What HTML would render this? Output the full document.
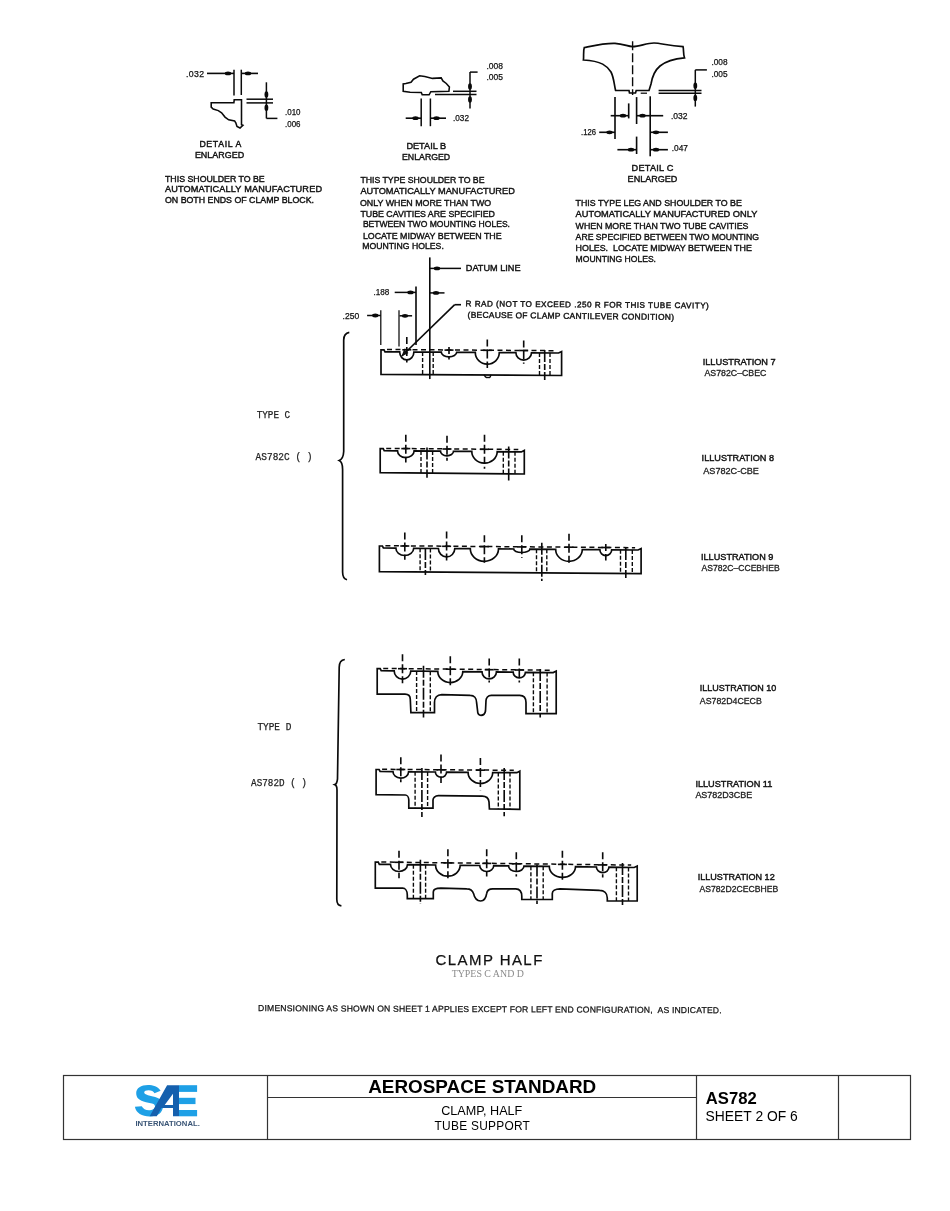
<!DOCTYPE html><html><head><meta charset="utf-8"><style>html,body{margin:0;padding:0;background:#fff;width:950px;height:1211px;overflow:hidden}svg{display:block;-webkit-font-smoothing:antialiased;will-change:transform}</style></head><body>
<svg width="950" height="1211" viewBox="0 0 950 1211">
<rect width="950" height="1211" fill="#fff"/>
<text x="186.0" y="76.5" font-family='"Liberation Sans", sans-serif' font-size="8.72" font-weight="normal" fill="#111" stroke="#111" stroke-width="0.25" textLength="18.0" lengthAdjust="spacing">.032</text>
<line x1="207.0" y1="73.4" x2="234.0" y2="73.4" stroke="#0a0a0a" stroke-width="1.62"/>
<ellipse cx="228.0" cy="73.4" rx="3.2" ry="1.9" fill="#0a0a0a"/>
<line x1="234.0" y1="69.7" x2="234.0" y2="95.5" stroke="#0a0a0a" stroke-width="1.50"/>
<line x1="241.3" y1="69.7" x2="241.3" y2="95.0" stroke="#0a0a0a" stroke-width="1.50"/>
<line x1="242.0" y1="73.4" x2="258.0" y2="73.4" stroke="#0a0a0a" stroke-width="1.62"/>
<ellipse cx="248.0" cy="73.4" rx="3.2" ry="1.9" fill="#0a0a0a"/>
<path d="M211.2 102.7 L233.9 102.7 L234.2 99.8 L241.5 99.8 L241.5 124.7 L242.9 125.2 L240 128 L237 126.5 L235.8 122.8 L234.6 120.9 L228.7 119.8 L225 117.1 L221.6 112.8 L218.3 110.6 L213.2 109 L211.2 107.2 Z" fill="none" stroke="#0a0a0a" stroke-width="1.56"/>
<line x1="246.5" y1="99.2" x2="273.0" y2="99.2" stroke="#0a0a0a" stroke-width="1.50"/>
<line x1="246.5" y1="102.9" x2="273.0" y2="102.9" stroke="#0a0a0a" stroke-width="1.50"/>
<line x1="266.4" y1="82.3" x2="266.4" y2="118.4" stroke="#0a0a0a" stroke-width="1.50"/>
<ellipse cx="266.4" cy="94.5" rx="1.9" ry="3.2" fill="#0a0a0a"/>
<ellipse cx="266.4" cy="107.7" rx="1.9" ry="3.2" fill="#0a0a0a"/>
<line x1="266.4" y1="118.4" x2="277.4" y2="118.4" stroke="#0a0a0a" stroke-width="1.50"/>
<text x="285.0" y="114.8" font-family='"Liberation Sans", sans-serif' font-size="9.01" font-weight="normal" fill="#111" stroke="#111" stroke-width="0.25" textLength="15.5" lengthAdjust="spacingAndGlyphs">.010</text>
<text x="285.0" y="126.6" font-family='"Liberation Sans", sans-serif' font-size="9.01" font-weight="normal" fill="#111" stroke="#111" stroke-width="0.25" textLength="15.5" lengthAdjust="spacingAndGlyphs">.006</text>
<text x="199.4" y="147.3" font-family='"Liberation Sans", sans-serif' font-size="8.72" font-weight="normal" fill="#111" stroke="#111" stroke-width="0.42" textLength="42.0" lengthAdjust="spacing">DETAIL A</text>
<text x="194.9" y="158.3" font-family='"Liberation Sans", sans-serif' font-size="9.16" font-weight="normal" fill="#111" stroke="#111" stroke-width="0.42" textLength="49.2" lengthAdjust="spacingAndGlyphs">ENLARGED</text>
<text x="165.0" y="181.6" font-family='"Liberation Sans", sans-serif' font-size="9.16" font-weight="normal" fill="#111" stroke="#111" stroke-width="0.42" textLength="99.7" lengthAdjust="spacingAndGlyphs">THIS SHOULDER TO BE</text>
<text x="165.0" y="192.3" font-family='"Liberation Sans", sans-serif' font-size="9.16" font-weight="normal" fill="#111" stroke="#111" stroke-width="0.42" textLength="157.0" lengthAdjust="spacing">AUTOMATICALLY MANUFACTURED</text>
<text x="165.0" y="203.3" font-family='"Liberation Sans", sans-serif' font-size="9.16" font-weight="normal" fill="#111" stroke="#111" stroke-width="0.42" textLength="149.0" lengthAdjust="spacingAndGlyphs">ON BOTH ENDS OF CLAMP BLOCK.</text>
<path d="M403.2 84 L403.2 91.3 L410.1 92.2 L421.3 92.4 L422.2 94.8 L429.1 94.8 L430.8 91.7 L448.9 91.3 L449.4 87 L446.3 83.5 L442.9 80.9 L441.2 77.9 L432.5 78.4 L424.8 76.6 L419.6 75.8 L413.5 79.2 L411 82.2 L405.8 83.5 Z" fill="none" stroke="#0a0a0a" stroke-width="1.56"/>
<line x1="453.0" y1="91.3" x2="476.5" y2="91.3" stroke="#0a0a0a" stroke-width="1.50"/>
<line x1="435.0" y1="94.4" x2="476.5" y2="94.4" stroke="#0a0a0a" stroke-width="1.50"/>
<line x1="470.0" y1="72.1" x2="470.0" y2="108.4" stroke="#0a0a0a" stroke-width="1.50"/>
<line x1="470.0" y1="72.1" x2="477.6" y2="72.1" stroke="#0a0a0a" stroke-width="1.50"/>
<ellipse cx="470.0" cy="86.5" rx="1.9" ry="3.2" fill="#0a0a0a"/>
<ellipse cx="470.0" cy="99.5" rx="1.9" ry="3.2" fill="#0a0a0a"/>
<text x="486.5" y="69.0" font-family='"Liberation Sans", sans-serif' font-size="8.72" font-weight="normal" fill="#111" stroke="#111" stroke-width="0.25" textLength="16.5" lengthAdjust="spacingAndGlyphs">.008</text>
<text x="486.5" y="80.0" font-family='"Liberation Sans", sans-serif' font-size="8.72" font-weight="normal" fill="#111" stroke="#111" stroke-width="0.25" textLength="16.5" lengthAdjust="spacingAndGlyphs">.005</text>
<line x1="421.2" y1="98.5" x2="421.2" y2="126.2" stroke="#0a0a0a" stroke-width="1.50"/>
<line x1="430.4" y1="98.5" x2="430.4" y2="126.2" stroke="#0a0a0a" stroke-width="1.50"/>
<line x1="405.7" y1="118.2" x2="421.0" y2="118.2" stroke="#0a0a0a" stroke-width="1.62"/>
<ellipse cx="415.5" cy="118.2" rx="3.2" ry="1.9" fill="#0a0a0a"/>
<line x1="431.0" y1="118.2" x2="446.0" y2="118.2" stroke="#0a0a0a" stroke-width="1.62"/>
<ellipse cx="436.5" cy="118.2" rx="3.2" ry="1.9" fill="#0a0a0a"/>
<text x="453.0" y="121.3" font-family='"Liberation Sans", sans-serif' font-size="8.87" font-weight="normal" fill="#111" stroke="#111" stroke-width="0.25" textLength="16.0" lengthAdjust="spacingAndGlyphs">.032</text>
<text x="406.4" y="149.2" font-family='"Liberation Sans", sans-serif' font-size="9.59" font-weight="normal" fill="#111" stroke="#111" stroke-width="0.42" textLength="39.7" lengthAdjust="spacingAndGlyphs">DETAIL B</text>
<text x="402.0" y="160.0" font-family='"Liberation Sans", sans-serif' font-size="9.74" font-weight="normal" fill="#111" stroke="#111" stroke-width="0.42" textLength="48.2" lengthAdjust="spacingAndGlyphs">ENLARGED</text>
<text x="360.4" y="183.0" font-family='"Liberation Sans", sans-serif' font-size="9.59" font-weight="normal" fill="#111" stroke="#111" stroke-width="0.42" textLength="124.1" lengthAdjust="spacingAndGlyphs">THIS TYPE SHOULDER TO BE</text>
<text x="360.4" y="194.4" font-family='"Liberation Sans", sans-serif' font-size="9.74" font-weight="normal" fill="#111" stroke="#111" stroke-width="0.42" textLength="154.4" lengthAdjust="spacingAndGlyphs">AUTOMATICALLY MANUFACTURED</text>
<text x="359.9" y="205.6" font-family='"Liberation Sans", sans-serif' font-size="9.59" font-weight="normal" fill="#111" stroke="#111" stroke-width="0.42" textLength="131.3" lengthAdjust="spacingAndGlyphs">ONLY WHEN MORE THAN TWO</text>
<text x="360.4" y="217.1" font-family='"Liberation Sans", sans-serif' font-size="9.59" font-weight="normal" fill="#111" stroke="#111" stroke-width="0.42" textLength="134.6" lengthAdjust="spacingAndGlyphs">TUBE CAVITIES ARE SPECIFIED</text>
<text x="362.9" y="226.6" font-family='"Liberation Sans", sans-serif' font-size="9.59" font-weight="normal" fill="#111" stroke="#111" stroke-width="0.42" textLength="147.1" lengthAdjust="spacingAndGlyphs">BETWEEN TWO MOUNTING HOLES.</text>
<text x="362.9" y="238.9" font-family='"Liberation Sans", sans-serif' font-size="9.59" font-weight="normal" fill="#111" stroke="#111" stroke-width="0.42" textLength="138.7" lengthAdjust="spacingAndGlyphs">LOCATE MIDWAY BETWEEN THE</text>
<text x="362.3" y="249.3" font-family='"Liberation Sans", sans-serif' font-size="9.59" font-weight="normal" fill="#111" stroke="#111" stroke-width="0.42" textLength="81.5" lengthAdjust="spacingAndGlyphs">MOUNTING HOLES.</text>
<path d="M584.3 47.5 C 592 46 605 43 615 43.4 C 624 44 628 46.6 632.6 46.6 C 640 46.6 646 43 654 43 C 661 43 668 46 683 46.6 C 684 50 683 54 684.5 57.8 C 676 58.5 666 61 660 66 C 654 71 652 78 651 84 L 649 90.5 L 636.2 90.5 L 635.5 93 L 629.5 93 L 629 90.5 L 615.6 90.5 C 614 84 614 78 611 72 C 607 66 602 61 583.4 60 C 584 56 583 51 584.3 47.5 Z" fill="none" stroke="#0a0a0a" stroke-width="1.68"/>
<line x1="640.7" y1="93.2" x2="647.0" y2="93.2" stroke="#0a0a0a" stroke-width="1.25"/>
<line x1="632.6" y1="41.3" x2="632.6" y2="95.0" stroke="#0a0a0a" stroke-width="1.38" stroke-dasharray="9 3"/>
<line x1="658.6" y1="90.5" x2="701.5" y2="90.5" stroke="#0a0a0a" stroke-width="1.50"/>
<line x1="658.6" y1="93.2" x2="701.5" y2="93.2" stroke="#0a0a0a" stroke-width="1.50"/>
<line x1="695.3" y1="69.9" x2="695.3" y2="106.6" stroke="#0a0a0a" stroke-width="1.50"/>
<line x1="695.3" y1="69.9" x2="706.9" y2="69.9" stroke="#0a0a0a" stroke-width="1.50"/>
<ellipse cx="695.3" cy="85.8" rx="1.9" ry="3.2" fill="#0a0a0a"/>
<ellipse cx="695.3" cy="97.9" rx="1.9" ry="3.2" fill="#0a0a0a"/>
<text x="711.4" y="64.8" font-family='"Liberation Sans", sans-serif' font-size="8.72" font-weight="normal" fill="#111" stroke="#111" stroke-width="0.25" textLength="16.1" lengthAdjust="spacingAndGlyphs">.008</text>
<text x="711.4" y="76.5" font-family='"Liberation Sans", sans-serif' font-size="8.72" font-weight="normal" fill="#111" stroke="#111" stroke-width="0.25" textLength="16.1" lengthAdjust="spacingAndGlyphs">.005</text>
<line x1="615.0" y1="97.1" x2="615.0" y2="139.0" stroke="#0a0a0a" stroke-width="1.62"/>
<line x1="628.7" y1="103.4" x2="628.7" y2="118.4" stroke="#0a0a0a" stroke-width="1.62"/>
<line x1="636.6" y1="97.1" x2="636.6" y2="124.0" stroke="#0a0a0a" stroke-width="1.62"/>
<line x1="636.6" y1="136.6" x2="636.6" y2="154.0" stroke="#0a0a0a" stroke-width="1.62"/>
<line x1="650.2" y1="96.3" x2="650.2" y2="156.3" stroke="#0a0a0a" stroke-width="1.62"/>
<line x1="610.7" y1="115.7" x2="628.7" y2="115.7" stroke="#0a0a0a" stroke-width="1.62"/>
<ellipse cx="623.0" cy="115.7" rx="3.2" ry="1.9" fill="#0a0a0a"/>
<line x1="637.0" y1="115.7" x2="663.2" y2="115.7" stroke="#0a0a0a" stroke-width="1.62"/>
<ellipse cx="642.5" cy="115.7" rx="3.2" ry="1.9" fill="#0a0a0a"/>
<text x="671.0" y="119.0" font-family='"Liberation Sans", sans-serif' font-size="8.72" font-weight="normal" fill="#111" stroke="#111" stroke-width="0.25" textLength="16.6" lengthAdjust="spacingAndGlyphs">.032</text>
<text x="581.0" y="135.3" font-family='"Liberation Sans", sans-serif' font-size="8.72" font-weight="normal" fill="#111" stroke="#111" stroke-width="0.25" textLength="15.0" lengthAdjust="spacingAndGlyphs">.126</text>
<line x1="599.2" y1="132.3" x2="615.0" y2="132.3" stroke="#0a0a0a" stroke-width="1.62"/>
<ellipse cx="609.5" cy="132.3" rx="3.2" ry="1.9" fill="#0a0a0a"/>
<line x1="650.5" y1="132.3" x2="667.9" y2="132.3" stroke="#0a0a0a" stroke-width="1.62"/>
<ellipse cx="656.0" cy="132.3" rx="3.2" ry="1.9" fill="#0a0a0a"/>
<line x1="617.4" y1="149.7" x2="636.6" y2="149.7" stroke="#0a0a0a" stroke-width="1.62"/>
<ellipse cx="631.0" cy="149.7" rx="3.2" ry="1.9" fill="#0a0a0a"/>
<line x1="650.5" y1="149.7" x2="667.9" y2="149.7" stroke="#0a0a0a" stroke-width="1.62"/>
<ellipse cx="656.0" cy="149.7" rx="3.2" ry="1.9" fill="#0a0a0a"/>
<text x="671.8" y="151.4" font-family='"Liberation Sans", sans-serif' font-size="8.72" font-weight="normal" fill="#111" stroke="#111" stroke-width="0.25" textLength="16.2" lengthAdjust="spacingAndGlyphs">.047</text>
<text x="631.6" y="171.3" font-family='"Liberation Sans", sans-serif' font-size="9.16" font-weight="normal" fill="#111" stroke="#111" stroke-width="0.42" textLength="41.8" lengthAdjust="spacing">DETAIL C</text>
<text x="627.6" y="182.4" font-family='"Liberation Sans", sans-serif' font-size="9.30" font-weight="normal" fill="#111" stroke="#111" stroke-width="0.42" textLength="49.8" lengthAdjust="spacingAndGlyphs">ENLARGED</text>
<text x="575.6" y="205.9" font-family='"Liberation Sans", sans-serif' font-size="9.59" font-weight="normal" fill="#111" stroke="#111" stroke-width="0.42" textLength="166.2" lengthAdjust="spacingAndGlyphs">THIS TYPE LEG AND SHOULDER TO BE</text>
<text x="575.6" y="217.1" font-family='"Liberation Sans", sans-serif' font-size="9.45" font-weight="normal" fill="#111" stroke="#111" stroke-width="0.42" textLength="181.7" lengthAdjust="spacingAndGlyphs">AUTOMATICALLY MANUFACTURED ONLY</text>
<text x="575.6" y="228.6" font-family='"Liberation Sans", sans-serif' font-size="9.59" font-weight="normal" fill="#111" stroke="#111" stroke-width="0.42" textLength="172.9" lengthAdjust="spacingAndGlyphs">WHEN MORE THAN TWO TUBE CAVITIES</text>
<text x="575.6" y="239.6" font-family='"Liberation Sans", sans-serif' font-size="9.59" font-weight="normal" fill="#111" stroke="#111" stroke-width="0.42" textLength="183.4" lengthAdjust="spacingAndGlyphs">ARE SPECIFIED BETWEEN TWO MOUNTING</text>
<text x="575.6" y="250.7" font-family='"Liberation Sans", sans-serif' font-size="9.59" font-weight="normal" fill="#111" stroke="#111" stroke-width="0.42" textLength="176.2" lengthAdjust="spacingAndGlyphs">HOLES.  LOCATE MIDWAY BETWEEN THE</text>
<text x="575.6" y="261.8" font-family='"Liberation Sans", sans-serif' font-size="9.59" font-weight="normal" fill="#111" stroke="#111" stroke-width="0.42" textLength="80.4" lengthAdjust="spacingAndGlyphs">MOUNTING HOLES.</text>
<line x1="429.8" y1="257.4" x2="429.8" y2="379.0" stroke="#0a0a0a" stroke-width="1.62"/>
<line x1="430.0" y1="268.4" x2="461.0" y2="268.4" stroke="#0a0a0a" stroke-width="1.50"/>
<ellipse cx="437.0" cy="268.4" rx="3.2" ry="1.9" fill="#0a0a0a"/>
<text x="465.8" y="271.2" font-family='"Liberation Sans", sans-serif' font-size="9.30" font-weight="normal" fill="#111" stroke="#111" stroke-width="0.42" textLength="54.7" lengthAdjust="spacingAndGlyphs">DATUM LINE</text>
<text x="373.4" y="295.1" font-family='"Liberation Sans", sans-serif' font-size="8.72" font-weight="normal" fill="#111" stroke="#111" stroke-width="0.25" textLength="15.8" lengthAdjust="spacingAndGlyphs">.188</text>
<line x1="394.7" y1="292.4" x2="416.0" y2="292.4" stroke="#0a0a0a" stroke-width="1.50"/>
<ellipse cx="410.5" cy="292.4" rx="3.2" ry="1.9" fill="#0a0a0a"/>
<line x1="416.0" y1="286.6" x2="416.0" y2="345.0" stroke="#0a0a0a" stroke-width="1.62"/>
<line x1="430.0" y1="292.9" x2="444.5" y2="292.9" stroke="#0a0a0a" stroke-width="1.50"/>
<ellipse cx="436.0" cy="292.9" rx="3.2" ry="1.9" fill="#0a0a0a"/>
<text x="342.6" y="318.5" font-family='"Liberation Sans", sans-serif' font-size="8.72" font-weight="normal" fill="#111" stroke="#111" stroke-width="0.25" textLength="16.6" lengthAdjust="spacingAndGlyphs">.250</text>
<line x1="367.1" y1="315.5" x2="380.8" y2="315.5" stroke="#0a0a0a" stroke-width="1.50"/>
<ellipse cx="375.3" cy="315.5" rx="3.2" ry="1.9" fill="#0a0a0a"/>
<line x1="380.8" y1="310.3" x2="380.8" y2="345.0" stroke="#0a0a0a" stroke-width="1.25"/>
<line x1="399.0" y1="310.3" x2="399.0" y2="346.6" stroke="#0a0a0a" stroke-width="1.25"/>
<line x1="399.5" y1="315.8" x2="412.1" y2="315.8" stroke="#0a0a0a" stroke-width="1.50"/>
<ellipse cx="405.0" cy="315.8" rx="3.2" ry="1.9" fill="#0a0a0a"/>
<line x1="401.8" y1="356.0" x2="454.7" y2="304.7" stroke="#0a0a0a" stroke-width="1.62"/>
<line x1="454.7" y1="304.7" x2="461.0" y2="304.7" stroke="#0a0a0a" stroke-width="1.62"/>
<path d="M401.5 356.5 L404 349.5 L408.5 353 Z" fill="#111"/>
<text x="465.6" y="306.3" font-family='"Liberation Sans", sans-serif' font-size="8.14" font-weight="normal" fill="#111" stroke="#111" stroke-width="0.40" textLength="243.2" lengthAdjust="spacing" transform="rotate(0.500 465.6 306.3)">R RAD (NOT TO EXCEED .250 R FOR THIS TUBE CAVITY)</text>
<text x="467.6" y="317.7" font-family='"Liberation Sans", sans-serif' font-size="8.43" font-weight="normal" fill="#111" stroke="#111" stroke-width="0.40" textLength="206.4" lengthAdjust="spacing" transform="rotate(0.620 467.6 317.7)">(BECAUSE OF CLAMP CANTILEVER CONDITION)</text>
<path d="M381.0 374.3 L381.0 349.8 L384.0 349.8 L385.0 351.8 L399.7 351.9 A7.1 8.0 0 0 0 413.9 352.0 L441.3 352.2 A7.7 4.6 0 0 0 456.7 352.3 L475.3 352.4 A12.0 11.7 0 0 0 499.3 352.6 L515.9 352.7 A7.8 7.3 0 0 0 531.5 352.8 L558.6 353.0 L561.6 351.5 L561.6 375.5 Z" fill="none" stroke="#0a0a0a" stroke-width="1.68"/>
<line x1="387.0" y1="349.5" x2="555.6" y2="350.7" stroke="#0a0a0a" stroke-width="1.50" stroke-dasharray="5 3.5"/>
<line x1="406.8" y1="337.0" x2="406.8" y2="362.6" stroke="#0a0a0a" stroke-width="1.62" stroke-dasharray="7 3 9 3"/>
<line x1="402.3" y1="349.8" x2="411.3" y2="349.8" stroke="#0a0a0a" stroke-width="1.62"/>
<line x1="449.0" y1="347.0" x2="449.0" y2="359.5" stroke="#0a0a0a" stroke-width="1.62" stroke-dasharray="7 3 9 3"/>
<line x1="444.5" y1="350.1" x2="453.5" y2="350.1" stroke="#0a0a0a" stroke-width="1.62"/>
<line x1="487.3" y1="339.5" x2="487.3" y2="367.9" stroke="#0a0a0a" stroke-width="1.62" stroke-dasharray="7 3 9 3"/>
<line x1="482.8" y1="350.3" x2="491.8" y2="350.3" stroke="#0a0a0a" stroke-width="1.62"/>
<line x1="523.7" y1="340.5" x2="523.7" y2="363.7" stroke="#0a0a0a" stroke-width="1.62" stroke-dasharray="7 3 9 3"/>
<line x1="519.2" y1="350.5" x2="528.2" y2="350.5" stroke="#0a0a0a" stroke-width="1.62"/>
<line x1="422.6" y1="352.1" x2="422.6" y2="374.6" stroke="#0a0a0a" stroke-width="1.38" stroke-dasharray="4 2"/>
<line x1="433.2" y1="352.1" x2="433.2" y2="374.6" stroke="#0a0a0a" stroke-width="1.38" stroke-dasharray="4 2"/>
<line x1="429.8" y1="379.0" x2="429.8" y2="379.0" stroke="#0a0a0a" stroke-width="1.62" stroke-dasharray="12 2 6 2"/>
<line x1="539.5" y1="352.9" x2="539.5" y2="375.4" stroke="#0a0a0a" stroke-width="1.38" stroke-dasharray="4 2"/>
<line x1="550.0" y1="352.9" x2="550.0" y2="375.4" stroke="#0a0a0a" stroke-width="1.38" stroke-dasharray="4 2"/>
<line x1="544.7" y1="350.0" x2="544.7" y2="380.0" stroke="#0a0a0a" stroke-width="1.62" stroke-dasharray="12 2 6 2"/>
<line x1="484.0" y1="374.8" x2="486.0" y2="377.5" stroke="#0a0a0a" stroke-width="1.38"/>
<line x1="486.0" y1="377.5" x2="490.0" y2="377.5" stroke="#0a0a0a" stroke-width="1.38"/>
<line x1="490.0" y1="377.5" x2="491.0" y2="374.8" stroke="#0a0a0a" stroke-width="1.38"/>
<path d="M380.2 472.7 L380.2 448.6 L383.2 448.6 L384.2 450.6 L397.5 450.8 A8.3 6.8 0 0 0 414.1 450.9 L440.5 451.1 A6.5 4.6 0 0 0 453.5 451.3 L471.8 451.4 A12.7 11.5 0 0 0 497.2 451.7 L521.3 451.9 L524.3 450.4 L524.3 474.0 Z" fill="none" stroke="#0a0a0a" stroke-width="1.68"/>
<line x1="386.2" y1="448.4" x2="518.3" y2="449.5" stroke="#0a0a0a" stroke-width="1.50" stroke-dasharray="5 3.5"/>
<line x1="405.8" y1="434.8" x2="405.8" y2="462.6" stroke="#0a0a0a" stroke-width="1.62" stroke-dasharray="7 3 9 3"/>
<line x1="401.3" y1="448.6" x2="410.3" y2="448.6" stroke="#0a0a0a" stroke-width="1.62"/>
<line x1="447.0" y1="435.7" x2="447.0" y2="460.8" stroke="#0a0a0a" stroke-width="1.62" stroke-dasharray="7 3 9 3"/>
<line x1="442.5" y1="449.0" x2="451.5" y2="449.0" stroke="#0a0a0a" stroke-width="1.62"/>
<line x1="484.5" y1="434.8" x2="484.5" y2="468.8" stroke="#0a0a0a" stroke-width="1.62" stroke-dasharray="7 3 9 3"/>
<line x1="480.0" y1="449.3" x2="489.0" y2="449.3" stroke="#0a0a0a" stroke-width="1.62"/>
<line x1="421.0" y1="451.0" x2="421.0" y2="473.1" stroke="#0a0a0a" stroke-width="1.38" stroke-dasharray="4 2"/>
<line x1="432.6" y1="451.1" x2="432.6" y2="473.2" stroke="#0a0a0a" stroke-width="1.38" stroke-dasharray="4 2"/>
<line x1="427.0" y1="447.4" x2="427.0" y2="477.8" stroke="#0a0a0a" stroke-width="1.62" stroke-dasharray="12 2 6 2"/>
<line x1="503.3" y1="451.7" x2="503.3" y2="473.8" stroke="#0a0a0a" stroke-width="1.38" stroke-dasharray="4 2"/>
<line x1="515.0" y1="451.8" x2="515.0" y2="473.9" stroke="#0a0a0a" stroke-width="1.38" stroke-dasharray="4 2"/>
<line x1="508.7" y1="446.5" x2="508.7" y2="480.5" stroke="#0a0a0a" stroke-width="1.62" stroke-dasharray="12 2 6 2"/>
<path d="M379.4 571.6 L379.4 546.0 L382.4 546.0 L383.4 548.0 L395.9 548.1 A8.9 7.3 0 0 0 413.7 548.3 L438.4 548.5 A8.2 8.4 0 0 0 454.8 548.6 L470.3 548.7 A14.1 12.5 0 0 0 498.5 548.9 L513.7 549.0 A8.1 3.4 0 0 0 529.9 549.2 L555.7 549.3 A13.3 11.9 0 0 0 582.3 549.6 L599.9 549.7 A5.9 5.8 0 0 0 611.7 549.8 L638.1 550.0 L641.1 548.5 L641.1 573.6 Z" fill="none" stroke="#0a0a0a" stroke-width="1.68"/>
<line x1="385.4" y1="545.7" x2="635.1" y2="547.7" stroke="#0a0a0a" stroke-width="1.50" stroke-dasharray="5 3.5"/>
<line x1="404.8" y1="532.4" x2="404.8" y2="559.8" stroke="#0a0a0a" stroke-width="1.62" stroke-dasharray="7 3 9 3"/>
<line x1="400.3" y1="546.0" x2="409.3" y2="546.0" stroke="#0a0a0a" stroke-width="1.62"/>
<line x1="446.6" y1="531.5" x2="446.6" y2="560.4" stroke="#0a0a0a" stroke-width="1.62" stroke-dasharray="7 3 9 3"/>
<line x1="442.1" y1="546.3" x2="451.1" y2="546.3" stroke="#0a0a0a" stroke-width="1.62"/>
<line x1="484.4" y1="535.3" x2="484.4" y2="562.7" stroke="#0a0a0a" stroke-width="1.62" stroke-dasharray="7 3 9 3"/>
<line x1="479.9" y1="546.6" x2="488.9" y2="546.6" stroke="#0a0a0a" stroke-width="1.62"/>
<line x1="521.8" y1="535.3" x2="521.8" y2="558.0" stroke="#0a0a0a" stroke-width="1.62" stroke-dasharray="7 3 9 3"/>
<line x1="517.3" y1="546.9" x2="526.3" y2="546.9" stroke="#0a0a0a" stroke-width="1.62"/>
<line x1="569.0" y1="533.8" x2="569.0" y2="564.8" stroke="#0a0a0a" stroke-width="1.62" stroke-dasharray="7 3 9 3"/>
<line x1="564.5" y1="547.2" x2="573.5" y2="547.2" stroke="#0a0a0a" stroke-width="1.62"/>
<line x1="605.8" y1="544.0" x2="605.8" y2="560.4" stroke="#0a0a0a" stroke-width="1.62" stroke-dasharray="7 3 9 3"/>
<line x1="601.3" y1="547.5" x2="610.3" y2="547.5" stroke="#0a0a0a" stroke-width="1.62"/>
<line x1="420.1" y1="548.3" x2="420.1" y2="571.9" stroke="#0a0a0a" stroke-width="1.38" stroke-dasharray="4 2"/>
<line x1="430.4" y1="548.4" x2="430.4" y2="572.0" stroke="#0a0a0a" stroke-width="1.38" stroke-dasharray="4 2"/>
<line x1="425.4" y1="548.0" x2="425.4" y2="575.0" stroke="#0a0a0a" stroke-width="1.62" stroke-dasharray="12 2 6 2"/>
<line x1="536.5" y1="549.2" x2="536.5" y2="572.8" stroke="#0a0a0a" stroke-width="1.38" stroke-dasharray="4 2"/>
<line x1="546.8" y1="549.3" x2="546.8" y2="572.9" stroke="#0a0a0a" stroke-width="1.38" stroke-dasharray="4 2"/>
<line x1="541.8" y1="542.7" x2="541.8" y2="581.0" stroke="#0a0a0a" stroke-width="1.62" stroke-dasharray="12 2 6 2"/>
<line x1="620.5" y1="549.8" x2="620.5" y2="573.4" stroke="#0a0a0a" stroke-width="1.38" stroke-dasharray="4 2"/>
<line x1="632.3" y1="549.9" x2="632.3" y2="573.5" stroke="#0a0a0a" stroke-width="1.38" stroke-dasharray="4 2"/>
<line x1="625.8" y1="548.0" x2="625.8" y2="578.0" stroke="#0a0a0a" stroke-width="1.62" stroke-dasharray="12 2 6 2"/>
<path d="M377.2 694.2 L377.2 668.6 L380.2 668.6 L381.2 670.6 L394.2 670.8 A8.3 8.2 0 0 0 410.8 671.0 L437.8 671.3 A12.5 11.1 0 0 0 462.8 671.6 L482.0 671.8 A7.2 7.1 0 0 0 496.4 671.9 L513.2 672.1 A6.1 5.7 0 0 0 525.4 672.3 L553.2 672.6 L556.2 671.1 L556.2 713.6 L556.2 713.6 L526 713.6 L526 702.6 C526 697 523 695.3 519.7 695.3 L491.3 695.3 C488 695.3 486 698 486 700.5 L485.5 711 C485 714 483 715.3 481 715.3 C479 715.3 477.6 714 477.6 711 L476.6 702.6 C476.6 698 474 695.3 470.3 695.3 L441.8 694.6 C437 694.6 434.5 698 434.5 702.6 L434.5 712.7 L410.9 712.7 L410.3 699.5 C410.3 696 408 694.2 405 694.2 L377.2 694.2 Z" fill="none" stroke="#0a0a0a" stroke-width="1.68"/>
<line x1="383.2" y1="668.4" x2="550.2" y2="670.2" stroke="#0a0a0a" stroke-width="1.50" stroke-dasharray="5 3.5"/>
<line x1="402.5" y1="654.2" x2="402.5" y2="684.5" stroke="#0a0a0a" stroke-width="1.62" stroke-dasharray="7 3 9 3"/>
<line x1="398.0" y1="668.7" x2="407.0" y2="668.7" stroke="#0a0a0a" stroke-width="1.62"/>
<line x1="450.3" y1="656.3" x2="450.3" y2="686.8" stroke="#0a0a0a" stroke-width="1.62" stroke-dasharray="7 3 9 3"/>
<line x1="445.8" y1="669.2" x2="454.8" y2="669.2" stroke="#0a0a0a" stroke-width="1.62"/>
<line x1="489.2" y1="658.4" x2="489.2" y2="682.6" stroke="#0a0a0a" stroke-width="1.62" stroke-dasharray="7 3 9 3"/>
<line x1="484.7" y1="669.7" x2="493.7" y2="669.7" stroke="#0a0a0a" stroke-width="1.62"/>
<line x1="519.3" y1="658.4" x2="519.3" y2="682.6" stroke="#0a0a0a" stroke-width="1.62" stroke-dasharray="7 3 9 3"/>
<line x1="514.8" y1="670.0" x2="523.8" y2="670.0" stroke="#0a0a0a" stroke-width="1.62"/>
<line x1="416.6" y1="671.0" x2="416.6" y2="712.7" stroke="#0a0a0a" stroke-width="1.38" stroke-dasharray="4 2"/>
<line x1="430.3" y1="671.2" x2="430.3" y2="712.7" stroke="#0a0a0a" stroke-width="1.38" stroke-dasharray="4 2"/>
<line x1="423.5" y1="665.8" x2="423.5" y2="717.4" stroke="#0a0a0a" stroke-width="1.62" stroke-dasharray="12 2 6 2"/>
<line x1="533.4" y1="672.3" x2="533.4" y2="713.5" stroke="#0a0a0a" stroke-width="1.38" stroke-dasharray="4 2"/>
<line x1="547.1" y1="672.5" x2="547.1" y2="713.5" stroke="#0a0a0a" stroke-width="1.38" stroke-dasharray="4 2"/>
<line x1="540.2" y1="669.0" x2="540.2" y2="717.4" stroke="#0a0a0a" stroke-width="1.62" stroke-dasharray="12 2 6 2"/>
<path d="M376.1 794.7 L376.1 769.5 L379.1 769.5 L380.1 771.5 L393.0 771.6 A7.8 6.4 0 0 0 408.6 771.8 L435.4 772.0 A5.6 5.2 0 0 0 446.6 772.1 L468.1 772.3 A12.3 11.1 0 0 0 492.7 772.5 L516.8 772.7 L519.8 771.2 L519.8 809.3 L489.4 809 L489 801.9 C488.5 798 486 796.2 482.2 796.2 L438.4 795.6 C435 795.6 433 798 433 800 L433 808.2 L408.8 808.2 L408.8 800.1 C408.8 797 407 795 405.3 795 L376.1 794.7 Z" fill="none" stroke="#0a0a0a" stroke-width="1.68"/>
<line x1="382.1" y1="769.3" x2="513.8" y2="770.3" stroke="#0a0a0a" stroke-width="1.50" stroke-dasharray="5 3.5"/>
<line x1="400.8" y1="757.2" x2="400.8" y2="782.2" stroke="#0a0a0a" stroke-width="1.62" stroke-dasharray="7 3 9 3"/>
<line x1="396.3" y1="769.5" x2="405.3" y2="769.5" stroke="#0a0a0a" stroke-width="1.62"/>
<line x1="441.0" y1="754.5" x2="441.0" y2="783.1" stroke="#0a0a0a" stroke-width="1.62" stroke-dasharray="7 3 9 3"/>
<line x1="436.5" y1="769.8" x2="445.5" y2="769.8" stroke="#0a0a0a" stroke-width="1.62"/>
<line x1="480.4" y1="758.0" x2="480.4" y2="790.3" stroke="#0a0a0a" stroke-width="1.62" stroke-dasharray="7 3 9 3"/>
<line x1="475.9" y1="770.2" x2="484.9" y2="770.2" stroke="#0a0a0a" stroke-width="1.62"/>
<line x1="415.1" y1="771.8" x2="415.1" y2="808.2" stroke="#0a0a0a" stroke-width="1.38" stroke-dasharray="4 2"/>
<line x1="427.6" y1="771.9" x2="427.6" y2="808.2" stroke="#0a0a0a" stroke-width="1.38" stroke-dasharray="4 2"/>
<line x1="421.9" y1="767.9" x2="421.9" y2="817.1" stroke="#0a0a0a" stroke-width="1.62" stroke-dasharray="12 2 6 2"/>
<line x1="498.3" y1="772.5" x2="498.3" y2="809.0" stroke="#0a0a0a" stroke-width="1.38" stroke-dasharray="4 2"/>
<line x1="510.0" y1="772.6" x2="510.0" y2="809.0" stroke="#0a0a0a" stroke-width="1.38" stroke-dasharray="4 2"/>
<line x1="504.2" y1="767.9" x2="504.2" y2="816.2" stroke="#0a0a0a" stroke-width="1.62" stroke-dasharray="12 2 6 2"/>
<path d="M375.3 888.2 L375.3 862.2 L378.3 862.2 L379.3 864.3 L390.5 864.4 A8.5 7.0 0 0 0 407.5 864.6 L435.6 865.0 A12.3 11.0 0 0 0 460.2 865.3 L479.7 865.5 A7.0 5.9 0 0 0 493.7 865.7 L508.6 865.9 A7.7 5.5 0 0 0 524.0 866.1 L549.3 866.4 A13.1 10.9 0 0 0 575.5 866.7 L596.4 867.0 A6.3 5.6 0 0 0 609.0 867.1 L634.2 867.5 L637.2 866.0 L637.2 901.0 L637.2 901 L607.3 901 L607.3 898 C607.3 893 604 890.4 599.6 890.4 L560 888.8 C555 888.8 552.3 891 552.3 893.4 L552.3 899.5 L521.8 899.5 L521.8 896.5 C521.8 891 519 888.8 515.7 888.8 L492.8 888.8 C489 888.8 487 891 486.7 893.4 C486 898 484 901 480.6 901 C477 901 474.5 898 473.5 893.4 C472.5 890.5 470 888.8 466.8 888.8 L440.9 888.2 C436 888.2 433.3 890 433.3 892 L433.3 898.6 L407.3 898.6 L407.3 895 C407.3 890.5 405 888.2 402.7 888.2 L375.3 888.2 Z" fill="none" stroke="#0a0a0a" stroke-width="1.68"/>
<line x1="381.3" y1="862.0" x2="631.2" y2="865.1" stroke="#0a0a0a" stroke-width="1.50" stroke-dasharray="5 3.5"/>
<line x1="399.0" y1="850.7" x2="399.0" y2="878.2" stroke="#0a0a0a" stroke-width="1.62" stroke-dasharray="7 3 9 3"/>
<line x1="394.5" y1="862.3" x2="403.5" y2="862.3" stroke="#0a0a0a" stroke-width="1.62"/>
<line x1="447.9" y1="849.2" x2="447.9" y2="881.2" stroke="#0a0a0a" stroke-width="1.62" stroke-dasharray="7 3 9 3"/>
<line x1="443.4" y1="862.9" x2="452.4" y2="862.9" stroke="#0a0a0a" stroke-width="1.62"/>
<line x1="486.7" y1="849.2" x2="486.7" y2="876.6" stroke="#0a0a0a" stroke-width="1.62" stroke-dasharray="7 3 9 3"/>
<line x1="482.2" y1="863.4" x2="491.2" y2="863.4" stroke="#0a0a0a" stroke-width="1.62"/>
<line x1="516.3" y1="852.2" x2="516.3" y2="876.6" stroke="#0a0a0a" stroke-width="1.62" stroke-dasharray="7 3 9 3"/>
<line x1="511.8" y1="863.8" x2="520.8" y2="863.8" stroke="#0a0a0a" stroke-width="1.62"/>
<line x1="562.4" y1="850.7" x2="562.4" y2="882.0" stroke="#0a0a0a" stroke-width="1.62" stroke-dasharray="7 3 9 3"/>
<line x1="557.9" y1="864.4" x2="566.9" y2="864.4" stroke="#0a0a0a" stroke-width="1.62"/>
<line x1="602.7" y1="852.2" x2="602.7" y2="877.5" stroke="#0a0a0a" stroke-width="1.62" stroke-dasharray="7 3 9 3"/>
<line x1="598.2" y1="864.9" x2="607.2" y2="864.9" stroke="#0a0a0a" stroke-width="1.62"/>
<line x1="413.4" y1="864.7" x2="413.4" y2="898.6" stroke="#0a0a0a" stroke-width="1.38" stroke-dasharray="4 2"/>
<line x1="425.6" y1="864.8" x2="425.6" y2="898.6" stroke="#0a0a0a" stroke-width="1.38" stroke-dasharray="4 2"/>
<line x1="420.4" y1="859.8" x2="420.4" y2="904.1" stroke="#0a0a0a" stroke-width="1.62" stroke-dasharray="12 2 6 2"/>
<line x1="530.9" y1="866.2" x2="530.9" y2="899.5" stroke="#0a0a0a" stroke-width="1.38" stroke-dasharray="4 2"/>
<line x1="543.2" y1="866.3" x2="543.2" y2="899.5" stroke="#0a0a0a" stroke-width="1.38" stroke-dasharray="4 2"/>
<line x1="537.0" y1="864.4" x2="537.0" y2="904.1" stroke="#0a0a0a" stroke-width="1.62" stroke-dasharray="12 2 6 2"/>
<line x1="616.4" y1="867.2" x2="616.4" y2="901.0" stroke="#0a0a0a" stroke-width="1.38" stroke-dasharray="4 2"/>
<line x1="628.5" y1="867.4" x2="628.5" y2="901.0" stroke="#0a0a0a" stroke-width="1.38" stroke-dasharray="4 2"/>
<line x1="622.5" y1="862.9" x2="622.5" y2="905.6" stroke="#0a0a0a" stroke-width="1.62" stroke-dasharray="12 2 6 2"/>
<path d="M349.3 332.3 C345.5 333 343.7 336 343.7 340 L343.7 451.5 C343.5 456 341.5 459.5 339.2 460.5 C341.5 461.5 342.6 465 342.6 469.4 L342.6 572 C342.6 576 344 579 347 579.8" fill="none" stroke="#0a0a0a" stroke-width="1.68"/>
<path d="M344.8 659.5 C341 660 339.2 663 339.2 667.3 L337.5 778.8 C337.2 782 336.5 784 334.8 784.6 C336.5 785.2 337 787 337 790 L336.8 899.2 C336.8 903 338.5 905.5 341.4 905.9" fill="none" stroke="#0a0a0a" stroke-width="1.68"/>
<text x="256.7" y="418.1" font-family='"Liberation Mono", monospace' font-size="10.17" font-weight="normal" fill="#222" stroke="#222" stroke-width="0.25" textLength="33.5" lengthAdjust="spacingAndGlyphs">TYPE C</text>
<text x="255.6" y="460.0" font-family='"Liberation Mono", monospace' font-size="11.08" font-weight="normal" fill="#222" stroke="#222" stroke-width="0.25" textLength="56.9" lengthAdjust="spacingAndGlyphs">AS782C ( )</text>
<text x="257.4" y="729.7" font-family='"Liberation Mono", monospace' font-size="10.17" font-weight="normal" fill="#222" stroke="#222" stroke-width="0.25" textLength="33.9" lengthAdjust="spacingAndGlyphs">TYPE D</text>
<text x="251.1" y="785.5" font-family='"Liberation Mono", monospace' font-size="10.17" font-weight="normal" fill="#222" stroke="#222" stroke-width="0.25" textLength="55.8" lengthAdjust="spacingAndGlyphs">AS782D ( )</text>
<text x="702.7" y="365.3" font-family='"Liberation Sans", sans-serif' font-size="9.16" font-weight="normal" fill="#111" stroke="#111" stroke-width="0.42" textLength="73.0" lengthAdjust="spacingAndGlyphs">ILLUSTRATION 7</text>
<text x="704.5" y="376.3" font-family='"Liberation Sans", sans-serif' font-size="9.16" font-weight="normal" fill="#222" stroke="#222" stroke-width="0.30" textLength="61.9" lengthAdjust="spacingAndGlyphs">AS782C–CBEC</text>
<text x="701.6" y="461.2" font-family='"Liberation Sans", sans-serif' font-size="9.16" font-weight="normal" fill="#111" stroke="#111" stroke-width="0.42" textLength="72.4" lengthAdjust="spacingAndGlyphs">ILLUSTRATION 8</text>
<text x="703.3" y="474.0" font-family='"Liberation Sans", sans-serif' font-size="9.16" font-weight="normal" fill="#222" stroke="#222" stroke-width="0.30" textLength="55.6" lengthAdjust="spacingAndGlyphs">AS782C-CBE</text>
<text x="701.0" y="559.7" font-family='"Liberation Sans", sans-serif' font-size="9.16" font-weight="normal" fill="#111" stroke="#111" stroke-width="0.42" textLength="72.4" lengthAdjust="spacingAndGlyphs">ILLUSTRATION 9</text>
<text x="701.6" y="571.3" font-family='"Liberation Sans", sans-serif' font-size="9.16" font-weight="normal" fill="#222" stroke="#222" stroke-width="0.30" textLength="78.1" lengthAdjust="spacingAndGlyphs">AS782C–CCEBHEB</text>
<text x="699.8" y="690.6" font-family='"Liberation Sans", sans-serif' font-size="9.16" font-weight="normal" fill="#111" stroke="#111" stroke-width="0.42" textLength="76.5" lengthAdjust="spacingAndGlyphs">ILLUSTRATION 10</text>
<text x="699.8" y="704.0" font-family='"Liberation Sans", sans-serif' font-size="9.16" font-weight="normal" fill="#222" stroke="#222" stroke-width="0.30" textLength="62.0" lengthAdjust="spacingAndGlyphs">AS782D4CECB</text>
<text x="695.4" y="786.8" font-family='"Liberation Sans", sans-serif' font-size="9.16" font-weight="normal" fill="#111" stroke="#111" stroke-width="0.42" textLength="77.0" lengthAdjust="spacingAndGlyphs">ILLUSTRATION 11</text>
<text x="695.4" y="798.4" font-family='"Liberation Sans", sans-serif' font-size="9.16" font-weight="normal" fill="#222" stroke="#222" stroke-width="0.30" textLength="56.8" lengthAdjust="spacingAndGlyphs">AS782D3CBE</text>
<text x="697.7" y="880.0" font-family='"Liberation Sans", sans-serif' font-size="9.16" font-weight="normal" fill="#111" stroke="#111" stroke-width="0.42" textLength="77.0" lengthAdjust="spacingAndGlyphs">ILLUSTRATION 12</text>
<text x="699.5" y="891.5" font-family='"Liberation Sans", sans-serif' font-size="9.16" font-weight="normal" fill="#222" stroke="#222" stroke-width="0.30" textLength="78.7" lengthAdjust="spacingAndGlyphs">AS782D2CECBHEB</text>
<text x="435.5" y="964.9" font-family='"Liberation Sans", sans-serif' font-size="14.97" font-weight="normal" fill="#111" stroke="#111" stroke-width="0.25" textLength="106.8" lengthAdjust="spacing">CLAMP HALF</text>
<text x="451.7" y="976.7" font-family='"Liberation Serif", serif' font-size="10.23" font-weight="normal" fill="#8a8a8a" textLength="72.2" lengthAdjust="spacingAndGlyphs">TYPES C AND D</text>
<text x="258.1" y="1011.0" font-family='"Liberation Sans", sans-serif' font-size="8.58" font-weight="normal" fill="#111" stroke="#111" stroke-width="0.25" textLength="463.5" lengthAdjust="spacing" transform="rotate(0.270 258.1 1011.0)">DIMENSIONING AS SHOWN ON SHEET 1 APPLIES EXCEPT FOR LEFT END CONFIGURATION,  AS INDICATED.</text>
<g stroke="#333" stroke-width="1.2" fill="none">
<rect x="63.5" y="1075.5" width="847" height="64"/>
<line x1="267.5" y1="1075.5" x2="267.5" y2="1139.5"/>
<line x1="696.5" y1="1075.5" x2="696.5" y2="1139.5"/>
<line x1="838.5" y1="1075.5" x2="838.5" y2="1139.5"/>
<line x1="267.5" y1="1097.5" x2="696.5" y2="1097.5"/>
</g>
</svg>
<svg style="position:absolute;left:0;top:0" width="950" height="1211" viewBox="0 0 950 1211">
<text x="368.2" y="1092.8" font-family='"Liberation Sans", sans-serif' font-size="18.90" font-weight="bold" fill="#000" textLength="228.0" lengthAdjust="spacingAndGlyphs">AEROSPACE STANDARD</text>
<text x="441.2" y="1115.4" font-family='"Liberation Sans", sans-serif' font-size="12.50" font-weight="normal" fill="#000" textLength="81.1" lengthAdjust="spacingAndGlyphs">CLAMP, HALF</text>
<text x="434.5" y="1129.6" font-family='"Liberation Sans", sans-serif' font-size="11.92" font-weight="normal" fill="#000" textLength="95.4" lengthAdjust="spacing">TUBE SUPPORT</text>
<text x="705.8" y="1104.1" font-family='"Liberation Sans", sans-serif' font-size="16.86" font-weight="bold" fill="#000" textLength="50.9" lengthAdjust="spacingAndGlyphs">AS782</text>
<text x="705.6" y="1120.9" font-family='"Liberation Sans", sans-serif' font-size="14.39" font-weight="normal" fill="#000" textLength="92.2" lengthAdjust="spacingAndGlyphs">SHEET 2 OF 6</text>
<path fill="#1ea0e6" d="M160.6 1090.8 C158 1086.5 153 1085 148 1085 C141 1085 136.2 1088 136.2 1093 C136.2 1098 139 1100.5 146 1102.2 L152 1103.6 C154.5 1104.3 155 1105.5 155 1106.5 C155 1109 152 1110.3 149 1110.3 C145.5 1110.3 143 1108.5 141.7 1106.2 L134.9 1106.8 C136 1113 142 1116.5 149.7 1116.5 C157 1116.5 163 1113 163 1106 C163 1100 159 1097.8 153 1096.4 L148 1095.2 C145.5 1094.6 144.2 1093.8 144.2 1092.6 C144.2 1091 146 1090.3 148.5 1090.3 C151.5 1090.3 153.5 1091.5 154.5 1093.3 Z"/>
<path fill-rule="evenodd" fill="#1560ae" d="M149.7 1116.3 L167.1 1085.2 L179 1085.2 L179 1116.3 L173 1116.3 L173 1108 L161.4 1108 L156.8 1116.3 Z M164.7 1104.9 L173 1104.9 L173 1093.8 Z"/>
<g fill="#1ea0e6"><rect x="179" y="1085.2" width="18.1" height="6.7"/><rect x="179" y="1097.8" width="16.5" height="6.3"/><rect x="179" y="1110" width="18.1" height="6.3"/></g>
<text x="135.4" y="1126.0" font-family='"Liberation Sans", sans-serif' font-size="7.70" font-weight="bold" fill="#3a5576" textLength="64.4" lengthAdjust="spacingAndGlyphs">INTERNATIONAL.</text>
</svg>
</body></html>
